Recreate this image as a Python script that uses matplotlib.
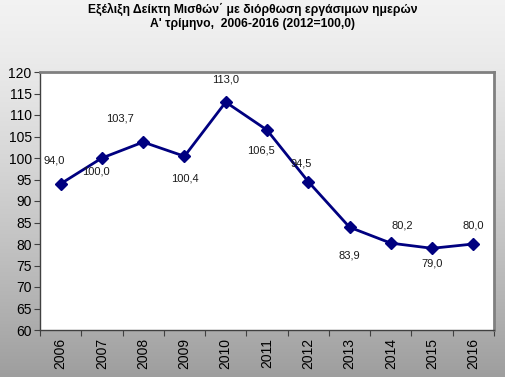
import numpy as np
import matplotlib
matplotlib.use("Agg")
import matplotlib.pyplot as plt

years = ["2006", "2007", "2008", "2009", "2010", "2011", "2012", "2013", "2014", "2015", "2016"]
index_values = [94.0, 100.0, 103.7, 100.4, 113.0, 106.5, 94.5, 83.9, 80.2, 79.0, 80.0]

# label offsets in points (dx, dy) relative to each point
label_offsets = [(-5, 17), (-4, -10), (-17, 17), (0, -16), (0, 16), (-4, -15),
                 (-5, 13), (0, -20), (8, 13), (0, -11), (0, 13)]

plt.rcParams['font.family'] = ['Liberation Sans', 'DejaVu Sans']

fig = plt.figure(figsize=(5.05, 3.77), dpi=100)

# background gradient
bg = fig.add_axes([0, 0, 1, 1], zorder=-10)
grad = np.linspace(0, 1, 256).reshape(-1, 1)
top = np.array([0.95, 0.95, 0.95])
bottom = np.array([0.62, 0.62, 0.62])
img = top + (bottom - top) * grad[..., None] ** 1.3
bg.imshow(img, aspect='auto', extent=[0, 1, 0, 1])
bg.axis('off')

ax = fig.add_axes([40 / 505, 1 - 330 / 377, 454 / 505, 258 / 377])
ax.set_facecolor('white')

x = np.arange(len(years))
ax.plot(x, index_values, color='#000080', linewidth=2.0, marker='D',
        markersize=6.5, markerfacecolor='#000080', markeredgecolor='#000080')

for xi, v, (dx, dy) in zip(x, index_values, label_offsets):
    ax.annotate(f"{v:.1f}".replace('.', ','), (xi, v), xytext=(dx, dy),
                textcoords='offset points', ha='center', va='center',
                fontsize=8, color='#1a1a1a')

ax.set_ylim(60, 120)
ax.set_yticks(np.arange(60, 121, 5))
ax.set_xlim(-0.5, len(years) - 0.5)
ax.set_xticks(np.arange(-0.5, len(years), 1.0))
ax.set_xticklabels([])
ax.set_xticks(x, minor=True)
ax.set_xticklabels(years, minor=True, rotation=90)
ax.tick_params(axis='x', which='minor', length=0, pad=6, labelsize=10)
ax.tick_params(axis='x', which='major', length=4, color='#404040', direction='out')
ax.tick_params(axis='y', length=4, color='#404040', direction='out', labelsize=10, pad=2)

for s in ['left', 'bottom']:
    ax.spines[s].set_color('#404040')
    ax.spines[s].set_linewidth(1.0)
for s in ['top', 'right']:
    ax.spines[s].set_color('#808080')
    ax.spines[s].set_linewidth(2.0)

fig.text(0.5, 1 - 9 / 377, "Εξέλιξη Δείκτη Μισθών΄ με διόρθωση εργάσιμων ημερών",
         ha='center', va='center', fontsize=8.7, fontweight='bold')
fig.text(0.5, 1 - 24 / 377, "Α' τρίμηνο,  2006-2016 (2012=100,0)",
         ha='center', va='center', fontsize=8.7, fontweight='bold')

fig.savefig("out.png", dpi=100)
